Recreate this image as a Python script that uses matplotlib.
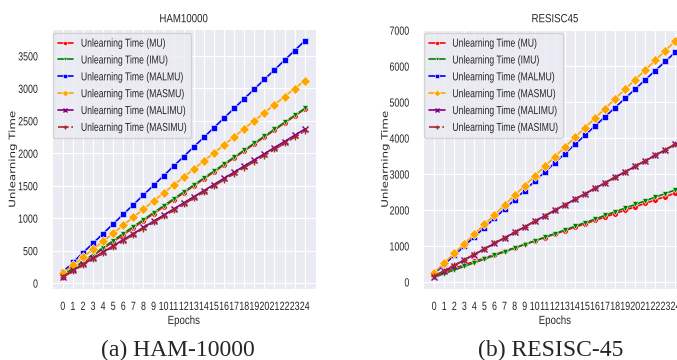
import matplotlib
matplotlib.use("Agg")
import matplotlib.pyplot as plt
import seaborn as sns
from matplotlib import patheffects
from matplotlib.transforms import Affine2D, Bbox

epochs = list(range(25))

# HAM10000
ham_mu = [100, 208, 315, 423, 530, 638, 745, 853, 960, 1068, 1175, 1283, 1390,
          1498, 1605, 1713, 1820, 1928, 2035, 2143, 2250, 2358, 2465, 2573, 2680]
ham_imu = [120, 227, 334, 441, 548, 655, 763, 870, 977, 1084, 1191, 1298, 1405,
           1512, 1619, 1726, 1833, 1941, 2048, 2155, 2262, 2369, 2476, 2583, 2690]
ham_malmu = [170, 318, 467, 615, 763, 912, 1060, 1208, 1357, 1505, 1653, 1802, 1950,
             2098, 2247, 2395, 2543, 2692, 2840, 2988, 3137, 3285, 3433, 3582, 3730]
ham_masmu = [150, 274, 398, 521, 645, 769, 893, 1016, 1140, 1264, 1388, 1511, 1635,
             1759, 1883, 2006, 2130, 2254, 2378, 2501, 2625, 2749, 2873, 2996, 3120]
ham_malimu = [100, 195, 289, 384, 478, 573, 668, 762, 857, 951, 1046, 1141, 1235,
              1330, 1424, 1519, 1614, 1708, 1803, 1897, 1992, 2087, 2181, 2276, 2370]
ham_masimu = [90, 184, 278, 371, 465, 559, 653, 746, 840, 934, 1028, 1121, 1215,
              1309, 1403, 1496, 1590, 1684, 1778, 1871, 1965, 2059, 2153, 2246, 2340]

# RESISC45
res_mu = [190, 285, 380, 475, 570, 665, 760, 855, 950, 1045, 1140, 1235, 1330,
          1425, 1520, 1615, 1710, 1805, 1900, 1995, 2090, 2185, 2280, 2375, 2470]
res_imu = [130, 231, 333, 434, 535, 636, 738, 839, 940, 1041, 1143, 1244, 1345,
           1446, 1548, 1649, 1750, 1851, 1953, 2054, 2155, 2256, 2358, 2459, 2560]
res_malmu = [230, 487, 743, 1000, 1257, 1513, 1770, 2027, 2283, 2540, 2797, 3053, 3310,
             3567, 3823, 4080, 4337, 4593, 4850, 5107, 5363, 5620, 5877, 6133, 6390]
res_masmu = [260, 528, 797, 1065, 1333, 1602, 1870, 2138, 2407, 2675, 2943, 3212, 3480,
             3748, 4017, 4285, 4553, 4822, 5090, 5358, 5627, 5895, 6163, 6432, 6700]
res_malimu = [150, 303, 456, 609, 762, 916, 1069, 1222, 1375, 1528, 1681, 1834, 1988,
              2141, 2294, 2447, 2600, 2753, 2906, 3059, 3213, 3366, 3519, 3672, 3825]
res_masimu = [160, 313, 466, 619, 772, 925, 1079, 1232, 1385, 1538, 1691, 1844, 1997,
              2150, 2303, 2456, 2609, 2763, 2916, 3069, 3222, 3375, 3528, 3681, 3835]

labels = ["Unlearning Time (MU)", "Unlearning Time (IMU)", "Unlearning Time (MALMU)",
          "Unlearning Time (MASMU)", "Unlearning Time (MALIMU)", "Unlearning Time (MASIMU)"]
colors = ["red", "green", "blue", "orange", "purple", "brown"]
markers = ["o", "v", "s", "D", "x", "+"]
styles = ["-", "-", "-", "-", "-", "-."]


class Squeeze(patheffects.AbstractPathEffect):
    """squeeze glyphs, the reference text looks narrowed sideways"""

    def __init__(self, sx, anchor="center", axis="x"):
        super().__init__()
        self.sx = sx
        self.anchor = anchor
        self.axis = axis

    def draw_path(self, renderer, gc, tpath, affine, rgbFace=None):
        ext = tpath.get_extents()
        if self.axis == "y":
            y0 = (ext.y0 + ext.y1) / 2
            t = Affine2D().translate(0, -y0).scale(1, self.sx).translate(0, y0)
        else:
            if self.anchor == "right":
                x0 = ext.x1
            elif self.anchor == "left":
                x0 = ext.x0
            else:
                x0 = (ext.x0 + ext.x1) / 2
            t = Affine2D().translate(-x0, 0).scale(self.sx, 1).translate(x0, 0)
        renderer.draw_path(gc, tpath, t + affine, rgbFace)


def narrow(t, sx, anchor="center", axis="x"):
    # draw squeezed and report the squeezed width so layouts follow
    t.set_path_effects([Squeeze(sx, anchor, axis)])
    orig = t._get_layout

    def layout(renderer):
        bbox, info, descent = orig(renderer)
        w = bbox.width * sx
        if anchor == "left":
            x0 = bbox.x0
        elif anchor == "right":
            x0 = bbox.x1 - w
        else:
            x0 = bbox.x0 + (bbox.width - w) / 2
        return Bbox.from_bounds(x0, bbox.y0, w, bbox.height), info, descent

    t._get_layout = layout


sns.set_style("darkgrid")
plt.rcParams["font.family"] = ["Liberation Sans", "DejaVu Sans"]

fig = plt.figure(figsize=(6.77, 3.6), dpi=100)
ax1 = fig.add_axes([0.0764, 0.197, 0.390, 0.722])
ax2 = fig.add_axes([0.625, 0.197, 0.389, 0.722])


def draw(ax, series, title, ylab_x):
    for vals, lab, c, m, ls in zip(series, labels, colors, markers, styles):
        plain = m not in "x+"
        ax.plot(epochs, vals, color=c, marker=m, linestyle=ls, label=lab,
                markersize=5 if m == "D" else 4, linewidth=1.2,
                markeredgecolor="white" if plain else c,
                markeredgewidth=0.4 if plain else 1.0)
    ax.set_xticks(epochs)
    ax.set_xlim(-1.1, 25.1)
    ax.tick_params(axis="x", labelsize=8.5, pad=5)
    ax.tick_params(axis="y", labelsize=8.5, pad=6.3)
    for t in ax.get_xticklabels():
        narrow(t, 0.75, "center")
    for t in ax.get_yticklabels():
        narrow(t, 0.75, "right")

    ax.set_xlabel("Epochs", fontsize=8.5, labelpad=1.5)
    narrow(ax.xaxis.label, 0.82)
    ax.set_ylabel("Unlearning Time", fontsize=8.5, family="DejaVu Sans")
    narrow(ax.yaxis.label, 0.75, "center", axis="y")
    ax.yaxis.set_label_coords(ylab_x, 0.5)
    ax.set_title(title, fontsize=8.5, pad=5)
    narrow(ax.title, 0.82)

    leg = ax.legend(loc="upper left", bbox_to_anchor=(0.005, 0.985), borderaxespad=0,
                    fontsize=8.3, handlelength=1.35, borderpad=0.4, labelspacing=0.42,
                    handletextpad=0.65, markerscale=0.7)
    for t in leg.get_texts():
        narrow(t, 0.75, "left")


draw(ax1, [ham_mu, ham_imu, ham_malmu, ham_masmu, ham_malimu, ham_masimu],
     "HAM10000", -0.124)
draw(ax2, [res_mu, res_imu, res_malmu, res_masmu, res_malimu, res_masimu],
     "RESISC45", -0.12)

fig.text(0.263, 0.01, "(a) HAM-10000", ha="center", fontsize=17,
         family="Liberation Serif")
fig.text(0.814, 0.01, "(b) RESISC-45", ha="center", fontsize=17,
         family="Liberation Serif")

fig.savefig("out.png", dpi=100)
